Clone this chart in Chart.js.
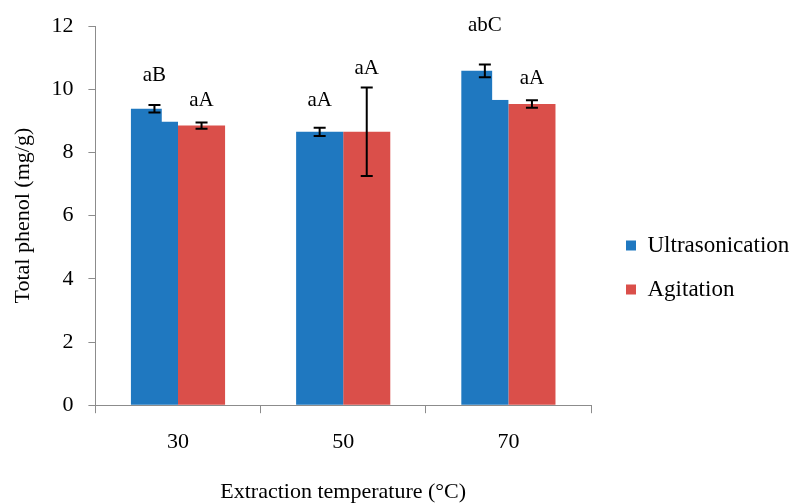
<!DOCTYPE html>
<html>
<head>
<meta charset="utf-8">
<script src="https://cdn.jsdelivr.net/npm/chart.js@4.4.0/dist/chart.umd.min.js"></script>
<style>
  body { margin: 0; background: #fff; }
  #wrap { width: 793px; height: 503px; }
</style>
</head>
<body>
<div id="wrap"><canvas id="phenolChart" width="793" height="503"></canvas></div>
<script>
// temperatures on the x axis
var temps = ["30", "50", "70"];
var ultrasonication = [9.38, 8.65, 10.58];
var agitation = [8.85, 8.65, 9.53];
var ultraErr = [0.12, 0.13, 0.2];
var agitErr = [0.1, 1.4, 0.12];
// the blue bars have a lower step on their right side in the original
var ultraStep = [8.97, null, 9.66];
var ultraLetters = ["aB", "aA", "abC"];
var agitLetters = ["aA", "aA", "aA"];
var ultraLetterAt = [10.42, 9.63, 12.03];
var agitLetterAt = [9.63, 10.67, 10.33];
var yTicks = [0, 2, 4, 6, 8, 10, 12];

var serif = "'Liberation Serif', 'Times New Roman', serif";
var axisGray = "#8c8c8c";

// legend is wider than chart.js allows by default, and sits a bit off the plot
var legendSpot = {
    id: "legendSpot",
    beforeLayout: function (chart) {
        var lg = chart.legend;
        if (lg && !lg._wide) {
            var fit = lg.fit;
            lg.fit = function () { fit.call(this); this.width = 200; };
            lg._wide = true;
        }
    },
    afterLayout: function (chart) {
        var lg = chart.legend;
        lg.left += 14; lg.right += 14;
        lg.top += 8; lg.bottom += 8;
    }
};

var extras = {
    id: "extras",
    afterDatasetsDraw: function (chart) {
        var ctx = chart.ctx;
        var y = chart.scales.y;
        var errs = [ultraErr, agitErr];
        var letters = [ultraLetters, agitLetters];
        var letterAt = [ultraLetterAt, agitLetterAt];
        var vals = [ultrasonication, agitation];
        ctx.save();
        // notch on the blue bars
        chart.getDatasetMeta(0).data.forEach(function (bar, i) {
            if (ultraStep[i] == null) return;
            var left = bar.x - bar.width / 2;
            var sx = left + bar.width * 0.655;
            var top = y.getPixelForValue(ultrasonication[i]);
            var sy = y.getPixelForValue(ultraStep[i]);
            ctx.fillStyle = "#fff";
            ctx.fillRect(sx, top - 1, bar.x + bar.width / 2 - sx + 1, sy - top + 1);
        });
        // error bars
        ctx.strokeStyle = "#000";
        ctx.lineWidth = 2;
        for (var d = 0; d < 2; d++) {
            chart.getDatasetMeta(d).data.forEach(function (bar, i) {
                var hi = y.getPixelForValue(vals[d][i] + errs[d][i]);
                var lo = y.getPixelForValue(vals[d][i] - errs[d][i]);
                ctx.beginPath();
                ctx.moveTo(bar.x, hi); ctx.lineTo(bar.x, lo);
                ctx.moveTo(bar.x - 6, hi); ctx.lineTo(bar.x + 6, hi);
                ctx.moveTo(bar.x - 6, lo); ctx.lineTo(bar.x + 6, lo);
                ctx.stroke();
            });
        }
        // significance letters
        ctx.fillStyle = "#000";
        ctx.font = "21px " + serif;
        ctx.textAlign = "center";
        ctx.textBaseline = "middle";
        for (var k = 0; k < 2; k++) {
            chart.getDatasetMeta(k).data.forEach(function (bar, i) {
                ctx.fillText(letters[k][i], bar.x, y.getPixelForValue(letterAt[k][i]));
            });
        }
        ctx.restore();
    }
};

new Chart(document.getElementById("phenolChart"), {
    type: "bar",
    data: {
        labels: temps,
        datasets: [
            { label: "Ultrasonication", data: ultrasonication, backgroundColor: "#1f78c0",
              categoryPercentage: 0.57, barPercentage: 1.0 },
            { label: "Agitation", data: agitation, backgroundColor: "#da4f4a",
              categoryPercentage: 0.57, barPercentage: 1.0 }
        ]
    },
    options: {
        responsive: false,
        animation: false,
        layout: { padding: { left: 10, top: 11, right: 2, bottom: -5 } },
        plugins: {
            tooltip: { enabled: false },
            legend: {
                position: "right",
                align: "center",
                labels: {
                    boxWidth: 10, boxHeight: 10, padding: 21, color: "#000",
                    font: { family: serif, size: 23 }
                }
            }
        },
        scales: {
            x: {
                grid: { offset: true, drawOnChartArea: false, tickLength: 8, color: axisGray },
                border: { color: axisGray, width: 1 },
                ticks: { color: "#000", padding: 16, font: { family: serif, size: 22 } },
                title: { display: true, text: "Extraction temperature (°C)", color: "#000",
                         font: { family: serif, size: 22 }, padding: { top: 7, bottom: 3 } }
            },
            y: {
                min: 0, max: 12,
                afterBuildTicks: function (axis) { axis.ticks = yTicks.map(function (v) { return { value: v }; }); },
                grid: { drawOnChartArea: false, tickLength: 7, color: axisGray },
                border: { color: axisGray, width: 1 },
                ticks: { color: "#000", padding: 15, font: { family: serif, size: 22, lineHeight: 1 } },
                title: { display: true, text: "Total phenol (mg/g)", color: "#000",
                         font: { family: serif, size: 22 }, padding: { top: 0, bottom: 0 } }
            }
        }
    },
    plugins: [legendSpot, extras]
});
</script>
</body>
</html>
